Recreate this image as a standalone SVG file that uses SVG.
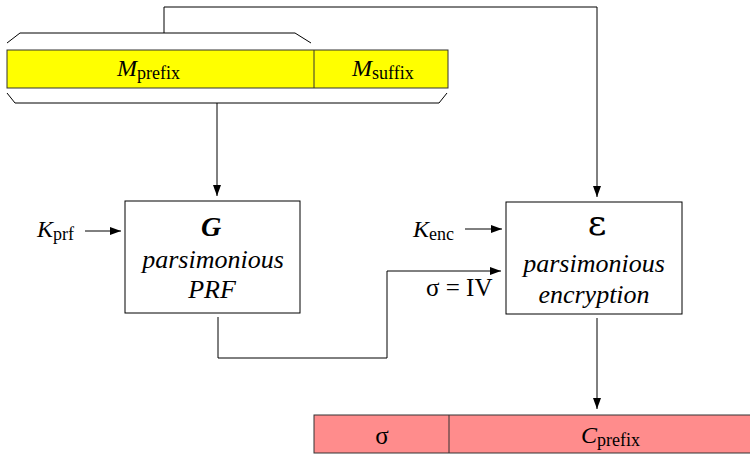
<svg xmlns="http://www.w3.org/2000/svg" width="750" height="454" viewBox="0 0 750 454">
<defs>
<marker id="ah" markerUnits="userSpaceOnUse" markerWidth="12" markerHeight="8" refX="11" refY="4" orient="auto">
<path d="M0,0 L11,4 L0,8 Z" fill="#000"/>
</marker>
<style>
.box{fill:#fff;stroke:#000;stroke-width:1}
.ln{fill:none;stroke:#000;stroke-width:1}
.ar{fill:none;stroke:#000;stroke-width:1;marker-end:url(#ah)}
.t{font-family:"Liberation Serif","Times New Roman",serif;fill:#000}
.it{font-style:italic}
.sub{font-size:18px;font-style:normal}
</style>
</defs>
<rect width="750" height="454" fill="#fff"/>
<g id="message">
<rect x="7" y="50" width="441" height="38" fill="#ffff00" stroke="#333" stroke-width="1"/>
<line x1="314" y1="50" x2="314" y2="88" stroke="#333" stroke-width="1"/>
<text class="t" x="117" y="76" font-size="24"><tspan class="it">M</tspan><tspan class="sub" dy="3">prefix</tspan></text>
<text class="t" x="352" y="76" font-size="24"><tspan class="it">M</tspan><tspan class="sub" dy="3">suffix</tspan></text>
<polyline class="ln" points="7,43 20,33 295,33 311,43"/>
<polyline class="ln" points="7,93 15,103 439,103 447,93"/>
</g>
<g id="prf">
<rect class="box" x="125" y="201" width="175" height="112"/>
<text class="t" x="211" y="236" font-size="28" font-weight="bold" font-style="italic" text-anchor="middle">G</text>
<text class="t it" x="213" y="268" font-size="26" text-anchor="middle">parsimonious</text>
<text class="t it" x="212" y="298" font-size="26" text-anchor="middle">PRF</text>
</g>
<g id="kprf">
<text class="t" x="37" y="237" font-size="24"><tspan class="it">K</tspan><tspan class="sub" dy="3">prf</tspan></text>
</g>
<g id="enc">
<rect class="box" x="506" y="202" width="176" height="112"/>
<text x="597" y="235" font-size="36" text-anchor="middle" style="font-family:'DejaVu Serif',serif">ε</text>
<text class="t it" x="594" y="272" font-size="26" text-anchor="middle">parsimonious</text>
<text class="t it" x="594" y="303" font-size="26" text-anchor="middle">encryption</text>
</g>
<g id="kenc">
<text class="t" x="413" y="237" font-size="24"><tspan class="it">K</tspan><tspan class="sub" dy="3">enc</tspan></text>
</g>
<g id="iv">
<text class="t" x="426" y="296" font-size="25">σ = IV</text>
</g>
<g id="ciphertext">
<rect x="314" y="415" width="440" height="38" fill="#ff8c8c" stroke="#333" stroke-width="1"/>
<line x1="449" y1="415" x2="449" y2="453" stroke="#333" stroke-width="1"/>
<text class="t" x="382" y="444" font-size="25" text-anchor="middle">σ</text>
<text class="t" x="581" y="443" font-size="24"><tspan class="it">C</tspan><tspan class="sub" dy="3">prefix</tspan></text>
</g>
<g id="connectors">
<polyline class="ar" points="164,33 164,7 597,7 597,197"/>
<polyline class="ar" points="217,103 217,196"/>
<line class="ar" x1="85" y1="231" x2="121" y2="231"/>
<line class="ar" x1="465" y1="229" x2="502" y2="229"/>
<polyline class="ar" points="218,317 218,358 387,358 387,271 501,271"/>
<polyline class="ar" points="597,318 597,409"/>
</g>
</svg>
